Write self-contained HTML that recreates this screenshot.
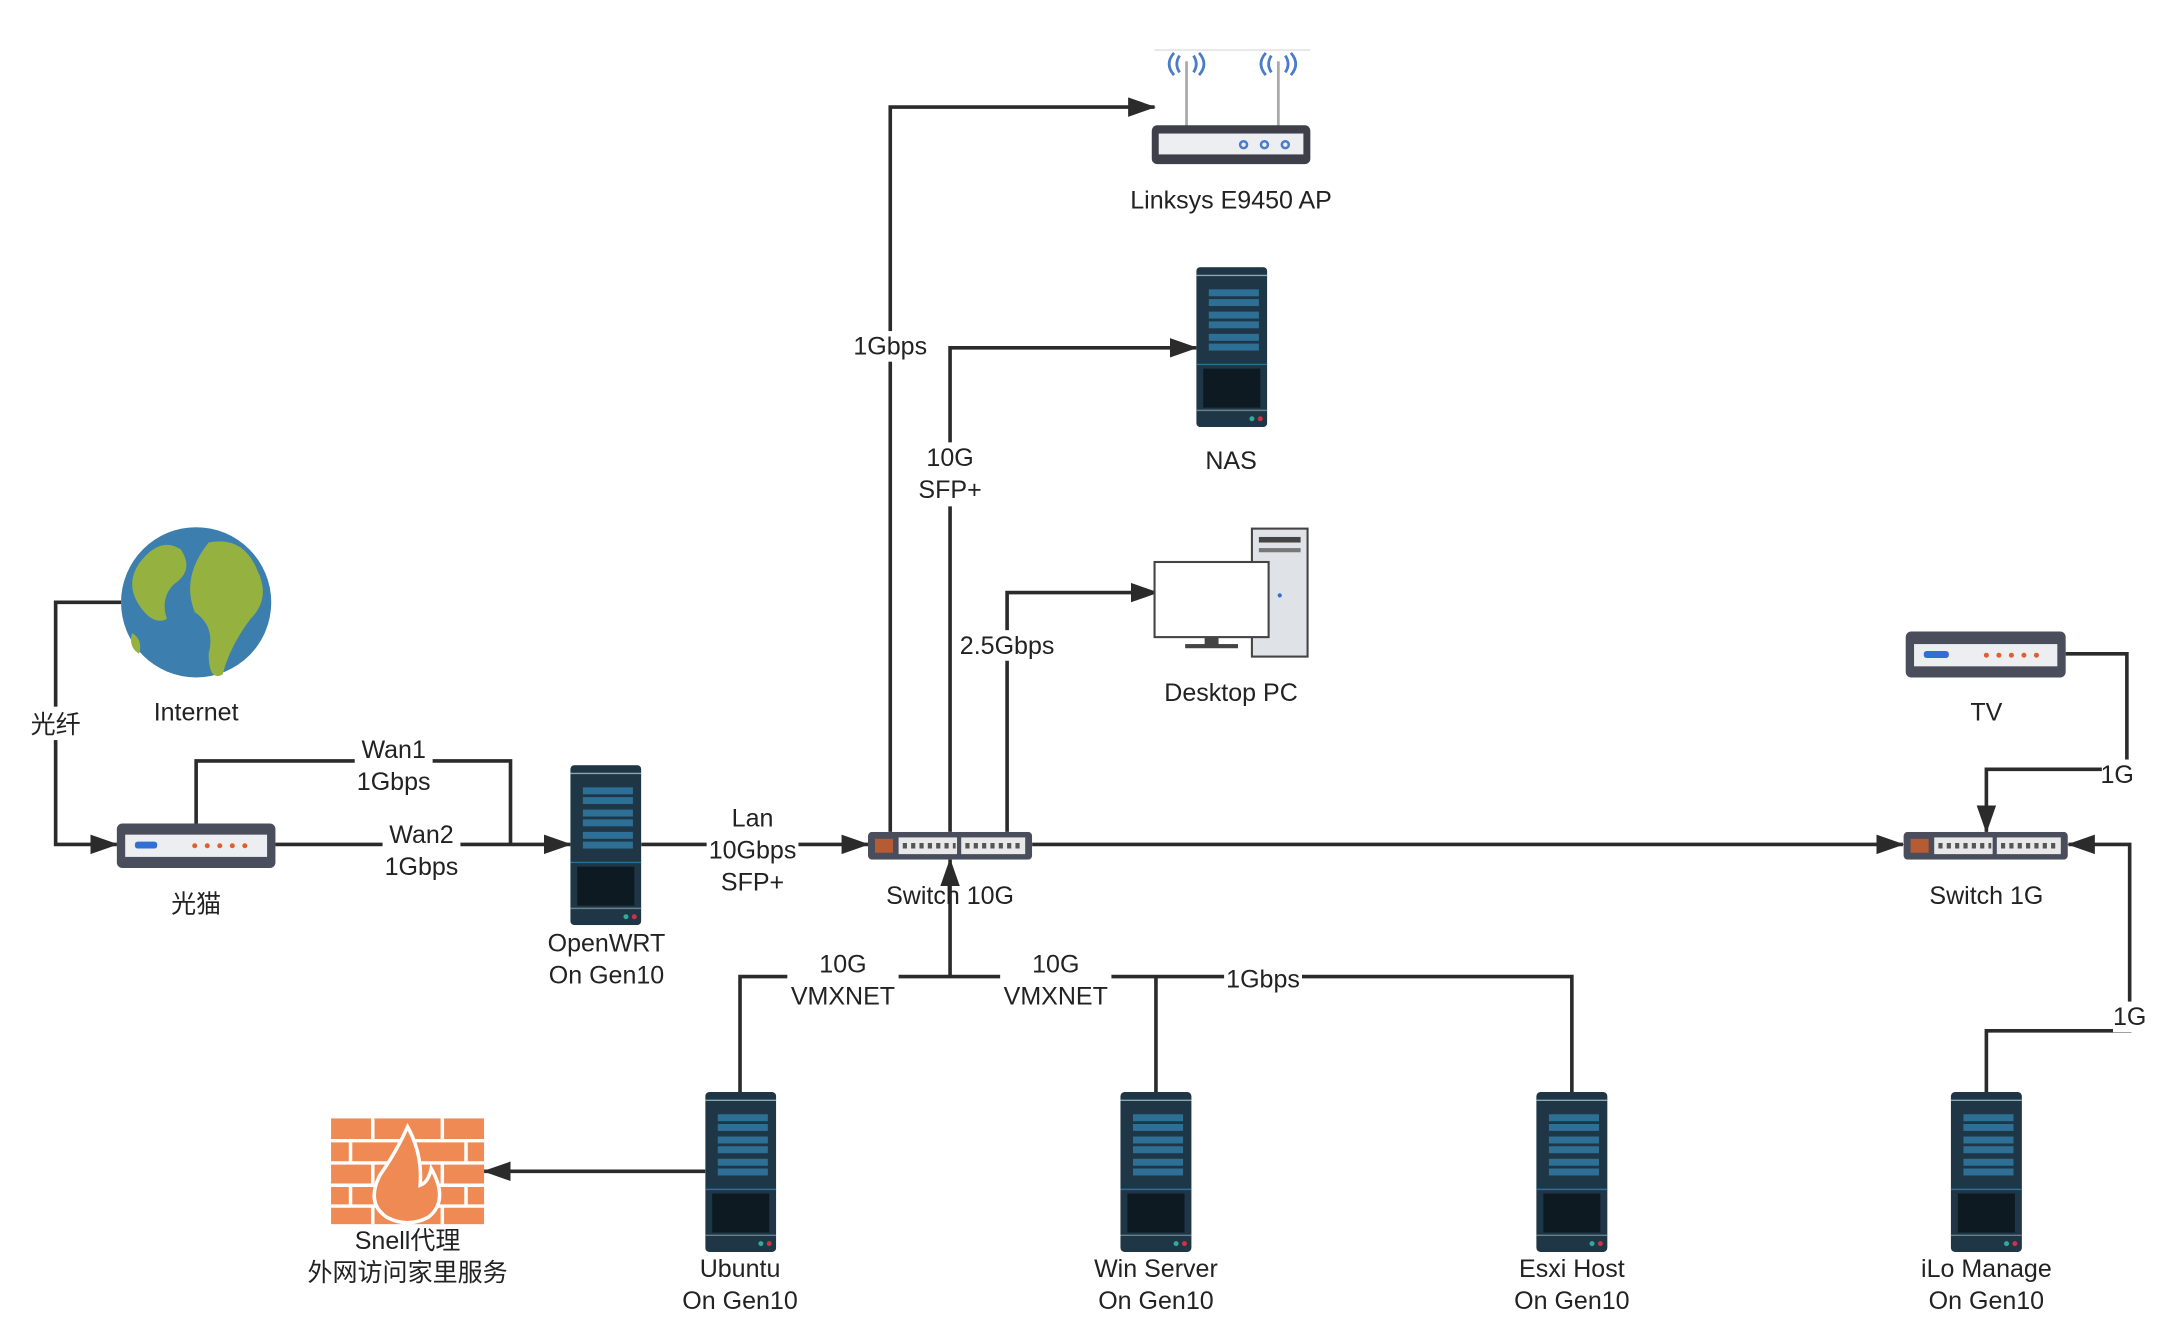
<!DOCTYPE html>
<html><head><meta charset="utf-8">
<style>
html,body{margin:0;padding:0;background:#fff;}
svg{display:block;}
text{font-family:"Liberation Sans","Noto Sans CJK SC",sans-serif;font-size:18px;fill:#222;text-anchor:middle;}
.ln{stroke:#2b2b2b;stroke-width:2.6;fill:none;}
.bg{fill:#fff;}
</style></head><body>
<svg width="2170" height="1341" viewBox="0 0 1560 964" preserveAspectRatio="none" xmlns="http://www.w3.org/2000/svg">
<defs>
<marker id="a" viewBox="0 0 20 14" refX="19" refY="7" markerWidth="20" markerHeight="14" markerUnits="userSpaceOnUse" orient="auto">
<path d="M0,0 L20,7 L0,14 z" fill="#2b2b2b"/></marker>
<symbol id="srv" viewBox="0 0 51 115">
<rect x="0" y="0" width="51" height="115" rx="3" fill="#1e3646"/>
<line x1="0" y1="6" x2="51" y2="6" stroke="#8aa" stroke-width="1"/>
<rect x="9" y="16" width="36" height="5" fill="#2e6f95"/>
<rect x="9" y="23" width="36" height="5" fill="#2e6f95"/>
<rect x="9" y="32" width="36" height="5" fill="#2e6f95"/>
<rect x="9" y="39" width="36" height="5" fill="#2e6f95"/>
<rect x="9" y="48" width="36" height="5" fill="#2e6f95"/>
<rect x="9" y="55" width="36" height="5" fill="#2e6f95"/>
<line x1="0" y1="70" x2="51" y2="70" stroke="#2e6f95" stroke-width="1"/>
<rect x="5" y="73" width="41" height="28" fill="#0d1a22"/>
<line x1="0" y1="103" x2="51" y2="103" stroke="#6a7f8a" stroke-width="1"/>
<circle cx="40" cy="109" r="1.8" fill="#3a9"/><circle cx="46" cy="109" r="1.8" fill="#c34"/>
</symbol>
<symbol id="sw" viewBox="0 0 118 20">
<rect x="0" y="0" width="118" height="20" rx="3" fill="#4a4d5c"/>
<rect x="5" y="5" width="13" height="10" fill="#d0602a" opacity="0.8"/>
<rect x="22" y="4" width="42" height="12" fill="#e8e8e8"/>
<rect x="67" y="4" width="46" height="12" fill="#e8e8e8"/>
<path d="M25,10h38M70,10h42" stroke="#555" stroke-width="4" stroke-dasharray="3,3"/>
</symbol>
</defs>

<polyline class="ln" points="87,433 40,433 40,607 84,607" marker-end="url(#a)"/>
<polyline class="ln" points="141,592 141,547 367,547 367,607"/>
<line class="ln" x1="198" y1="607" x2="410" y2="607" marker-end="url(#a)"/>
<line class="ln" x1="461" y1="607" x2="624" y2="607" marker-end="url(#a)"/>
<polyline class="ln" points="640,598 640,77 830,77" marker-end="url(#a)"/>
<polyline class="ln" points="683,598 683,250 860,250" marker-end="url(#a)"/>
<polyline class="ln" points="724,598 724,426 832,426" marker-end="url(#a)"/>
<line class="ln" x1="742" y1="607" x2="1368" y2="607" marker-end="url(#a)"/>
<line class="ln" x1="683" y1="702" x2="683" y2="618" marker-end="url(#a)"/>
<polyline class="ln" points="532,785 532,702 1130,702 1130,785"/>
<line class="ln" x1="831" y1="702" x2="831" y2="785"/>
<line class="ln" x1="507" y1="842" x2="348" y2="842" marker-end="url(#a)"/>
<polyline class="ln" points="1485,470 1529,470 1529,553 1428,553 1428,598" marker-end="url(#a)"/>
<polyline class="ln" points="1428,785 1428,741 1531,741 1531,607 1487,607" marker-end="url(#a)"/>

<rect class="bg" x="22" y="508" width="38" height="24"/><text x="40" y="527">光纤</text>
<rect class="bg" x="255" y="529" width="56" height="44"/><text x="283" y="545">Wan1</text><text x="283" y="568">1Gbps</text>
<rect class="bg" x="275" y="590" width="56" height="44"/><text x="303" y="606">Wan2</text><text x="303" y="629">1Gbps</text>
<rect class="bg" x="508" y="578" width="66" height="68"/><text x="541" y="594">Lan</text><text x="541" y="617">10Gbps</text><text x="541" y="640">SFP+</text>
<rect class="bg" x="612" y="238" width="56" height="22"/><text x="640" y="255">1Gbps</text>
<rect class="bg" x="658" y="318" width="52" height="46"/><text x="683" y="335">10G</text><text x="683" y="358">SFP+</text>
<rect class="bg" x="686" y="453" width="76" height="22"/><text x="724" y="470">2.5Gbps</text>
<rect class="bg" x="566" y="683" width="80" height="46"/><text x="606" y="699">10G</text><text x="606" y="722">VMXNET</text>
<rect class="bg" x="719" y="683" width="80" height="46"/><text x="759" y="699">10G</text><text x="759" y="722">VMXNET</text>
<rect class="bg" x="880" y="693" width="56" height="22"/><text x="908" y="710">1Gbps</text>
<rect class="bg" x="1511" y="546" width="24" height="22"/><text x="1522" y="563">1G</text>
<rect class="bg" x="1519" y="720" width="26" height="22"/><text x="1531" y="737">1G</text>

<circle cx="141" cy="433" r="54" fill="#3c7fae"/>
<path d="M100,405 q15,-20 30,-10 q10,15 -5,25 q-10,10 -5,25 q-10,5 -20,-10 q-10,-15 0,-30z M150,390 q25,-5 35,20 q10,20 -5,35 q-15,20 -20,40 q-10,5 -10,-15 q5,-20 -10,-30 q-10,-25 10,-50z M95,455 q8,5 5,15 q-8,-5 -5,-15z" fill="#95b241"/>
<text x="141" y="518">Internet</text>

<rect x="84" y="592" width="114" height="32" rx="4" fill="#4a4d5c"/>
<rect x="90" y="600" width="102" height="16" fill="#eceef2"/>
<rect x="97" y="605" width="16" height="5" rx="2" fill="#2f6fd6"/>
<g fill="#e0602a"><circle cx="140" cy="608" r="1.8"/><circle cx="149" cy="608" r="1.8"/><circle cx="158" cy="608" r="1.8"/><circle cx="167" cy="608" r="1.8"/><circle cx="176" cy="608" r="1.8"/></g>
<text x="141" y="656">光猫</text>

<use href="#srv" x="410" y="550" width="51" height="115"/>
<text x="436" y="684">OpenWRT</text><text x="436" y="707">On Gen10</text>

<use href="#sw" x="624" y="598" width="118" height="20"/>
<text x="683" y="650">Switch 10G</text>

<use href="#sw" x="1368" y="598" width="119" height="20"/>
<text x="1428" y="650">Switch 1G</text>

<rect x="1370" y="454" width="115" height="33" rx="4" fill="#4a4d5c"/>
<rect x="1376" y="463" width="103" height="16" fill="#eceef2"/>
<rect x="1383" y="468" width="18" height="5" rx="2" fill="#2f6fd6"/>
<g fill="#e0602a"><circle cx="1428" cy="471" r="1.8"/><circle cx="1437" cy="471" r="1.8"/><circle cx="1446" cy="471" r="1.8"/><circle cx="1455" cy="471" r="1.8"/><circle cx="1464" cy="471" r="1.8"/></g>
<text x="1428" y="518">TV</text>

<line x1="830" y1="36" x2="942" y2="36" stroke="#ddd" stroke-width="1"/>
<line x1="853" y1="44" x2="853" y2="92" stroke="#aaa" stroke-width="2"/>
<line x1="919" y1="44" x2="919" y2="92" stroke="#aaa" stroke-width="2"/>
<g fill="none" stroke="#4a7cc8" stroke-width="2">
<path d="M848,40 q-4,6 0,12 M844,38 q-7,8 0,16 M858,40 q4,6 0,12 M862,38 q7,8 0,16"/>
<path d="M914,40 q-4,6 0,12 M910,38 q-7,8 0,16 M924,40 q4,6 0,12 M928,38 q7,8 0,16"/>
</g>
<rect x="828" y="90" width="114" height="28" rx="4" fill="#3d4048"/>
<rect x="833" y="96" width="104" height="15" fill="#eceef2"/>
<g fill="none" stroke="#4a7cc8" stroke-width="1.8"><circle cx="894" cy="104" r="2.5"/><circle cx="909" cy="104" r="2.5"/><circle cx="924" cy="104" r="2.5"/></g>
<text x="885" y="150">Linksys E9450 AP</text>

<use href="#srv" x="860" y="192" width="51" height="115"/>
<text x="885" y="337">NAS</text>

<rect x="900" y="380" width="40" height="92" fill="#dfe3e8" stroke="#444" stroke-width="1.5"/>
<rect x="905" y="386" width="30" height="4" fill="#444"/><rect x="905" y="394" width="30" height="3" fill="#777"/>
<circle cx="920" cy="428" r="1.5" fill="#2f6fd6"/>
<rect x="830" y="404" width="82" height="54" fill="#fff" stroke="#444" stroke-width="1.5"/>
<rect x="866" y="458" width="10" height="6" fill="#444"/><rect x="852" y="463" width="38" height="3" fill="#444"/>
<text x="885" y="504">Desktop PC</text>

<use href="#srv" x="507" y="785" width="51" height="115"/>
<text x="532" y="918">Ubuntu</text><text x="532" y="941">On Gen10</text>
<use href="#srv" x="805" y="785" width="52" height="115"/>
<text x="831" y="918">Win Server</text><text x="831" y="941">On Gen10</text>
<use href="#srv" x="1104" y="785" width="52" height="115"/>
<text x="1130" y="918">Esxi Host</text><text x="1130" y="941">On Gen10</text>
<use href="#srv" x="1402" y="785" width="52" height="115"/>
<text x="1428" y="918">iLo Manage</text><text x="1428" y="941">On Gen10</text>

<rect x="238" y="804" width="110" height="76" fill="#f08a55"/>
<g stroke="#fff" stroke-width="2.5">
<line x1="238" y1="820" x2="348" y2="820"/><line x1="238" y1="836" x2="348" y2="836"/>
<line x1="238" y1="852" x2="348" y2="852"/><line x1="238" y1="867" x2="348" y2="867"/>
<line x1="268" y1="804" x2="268" y2="820"/><line x1="318" y1="804" x2="318" y2="820"/>
<line x1="252" y1="820" x2="252" y2="836"/><line x1="335" y1="820" x2="335" y2="836"/>
<line x1="268" y1="836" x2="268" y2="852"/><line x1="318" y1="836" x2="318" y2="852"/>
<line x1="252" y1="852" x2="252" y2="867"/><line x1="335" y1="852" x2="335" y2="867"/>
<line x1="268" y1="867" x2="268" y2="880"/><line x1="318" y1="867" x2="318" y2="880"/>
</g>
<path d="M293,810 q-8,18 -20,35 q-10,20 5,30 q15,8 30,0 q15,-12 2,-35 q-2,10 -8,12 q2,-22 -9,-42z" fill="#f08a55" stroke="#fff" stroke-width="2.5"/>
<text x="293" y="898">Snell代理</text>
<text x="293" y="921">外网访问家里服务</text>
</svg>
</body></html>
